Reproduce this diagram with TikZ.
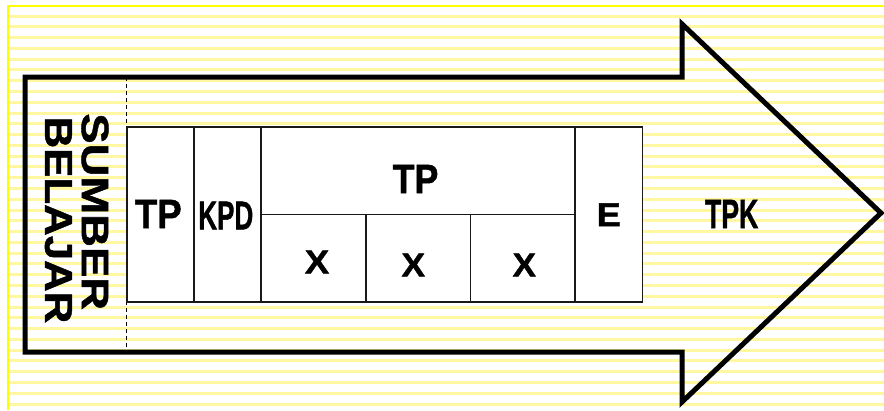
\documentclass[tikz,border=0pt]{standalone}
\usepackage{fontspec}
\setmainfont{Liberation Sans}[BoldFeatures={FakeBold=1.2}]
\usepackage{graphicx}
\definecolor{stripe}{RGB}{255,248,160}
\definecolor{framey}{RGB}{255,255,0}
\begin{document}
\begin{tikzpicture}[x=1pt,y=-1pt,
  cell/.style={draw=black!90, line width=1.3pt, fill=white, inner sep=0pt, outer sep=0pt},
  lbl/.style={inner sep=0pt, outer sep=0pt, font=\bfseries},
  arrowline/.style={line width=5pt, miter limit=10},
  divider/.style={line width=1.6pt, dash pattern=on 4pt off 3pt}]
\useasboundingbox (0,0) rectangle (884,410);
% striped background
\foreach \k in {0,...,36} \draw[stripe, line width=3pt] (8,{16+10.78*\k}) -- (884,{16+10.78*\k});
\draw[framey, line width=2pt] (7.5,410) -- (7.5,6) -- (884,6);
% big arrow
\coordinate (a1) at (25,77);
\coordinate (a2) at (682,77);
\coordinate (a3) at (682,24);
\coordinate (a4) at (881,213);
\coordinate (a5) at (682,402);
\coordinate (a6) at (682,352);
\coordinate (a7) at (25,352);
\draw[arrowline] (a1) -- (a2) -- (a3) -- (a4) -- (a5) -- (a6) -- (a7) -- cycle;
% dashed divider
\coordinate (dtop) at (126.5,77);
\coordinate (dbot) at (126.5,352);
\draw[divider] (dtop) -- (dbot);
% cells
\node[cell, minimum width=67pt, minimum height=175pt] (tp1) at (160.5,214.5) {};
\node[cell, minimum width=67pt, minimum height=175pt] (kpd) at (227.5,214.5) {};
\node[cell, minimum width=314pt, minimum height=87.7pt] (tpm) at (418,170.85) {};
\node[cell, minimum width=105pt, minimum height=87.3pt] (x1) at (313.5,258.35) {};
\node[cell, minimum width=104.7pt, minimum height=87.3pt] (x2) at (418.35,258.35) {};
\node[cell, minimum width=104.3pt, minimum height=87.3pt] (x3) at (522.85,258.35) {};
\node[cell, minimum width=67.3pt, minimum height=175pt] (e) at (608.65,214.5) {};
% labels
\node[lbl] (ltp1) at (158.3,214) {\resizebox{46.7pt}{28.3pt}{TP}};
\node[lbl] (lkpd) at (225.8,215.5) {\resizebox{55pt}{27.6pt}{KPD}};
\node[lbl] (ltpm) at (415.5,179) {\resizebox{45.7pt}{28.3pt}{TP}};
\node[lbl] (lx1) at (317,262) {\resizebox{24.3pt}{22.7pt}{X}};
\node[lbl] (lx2) at (413.3,265) {\resizebox{23.5pt}{22.7pt}{X}};
\node[lbl] (lx3) at (524.3,265) {\resizebox{23.3pt}{22.7pt}{X}};
\node[lbl] (le) at (608.7,214.7) {\resizebox{24pt}{22.7pt}{E}};
\node[lbl] (ltpk) at (731.7,214) {\resizebox{53.3pt}{28.3pt}{TPK}};
\node[lbl, rotate=-90] (lsumber) at (95,211.7) {\resizebox{196.7pt}{26.7pt}{SUMBER}};
\node[lbl, rotate=-90] (lbelajar) at (58.3,220) {\resizebox{206.7pt}{26.7pt}{BELAJAR}};
\end{tikzpicture}
\end{document}
